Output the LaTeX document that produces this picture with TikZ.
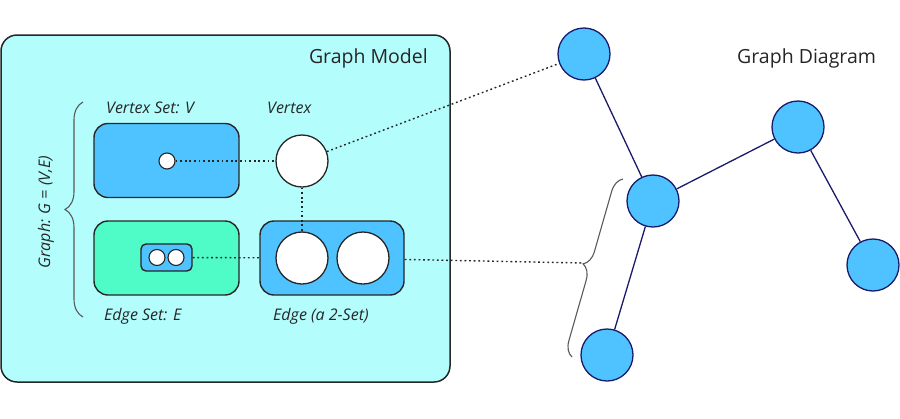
\documentclass[tikz,border=0pt]{standalone}
\usepackage{fontspec}
\setmainfont{Open Sans}
\usetikzlibrary{decorations.pathreplacing}
\definecolor{modelbg}{HTML}{B3FDFD}
\definecolor{setblue}{HTML}{4FC3FF}
\definecolor{setgreen}{HTML}{4FFCC8}
\definecolor{navy}{HTML}{1A1A6B}

\begin{document}
\begin{tikzpicture}[x=1pt, y=-1pt,
  box/.style={draw=black!85, line width=1.4pt, rounded corners=14pt, inner sep=0pt},
  ball/.style={circle, draw=black!85, fill=white, line width=1.3pt, inner sep=0pt, minimum size=52pt},
  pip/.style={circle, draw=black!85, fill=white, line width=1.1pt, inner sep=0pt, minimum size=16pt},
  gnode/.style={circle, draw=navy, fill=setblue, line width=1.3pt, inner sep=0pt, minimum size=52pt},
  link/.style={black!85, line width=1.4pt, dash pattern=on 1.8pt off 2.8pt},
  lbl/.style={font=\fontsize{16}{19}\selectfont\itshape, text=black!85, inner sep=0pt},
  ttl/.style={font=\fontsize{19.5}{24}\selectfont, text=black!85, inner sep=0pt},
  brc/.style={draw=black!65, line width=1.1pt, decorate}]
\useasboundingbox (0,0) rectangle (900,418);
%\draw [help lines, step=50] (0,0) grid (900,418);

% graph model
\draw [fill=modelbg, draw=black!85, line width=1.5pt, rounded corners=16pt] (1,35) rectangle (450,382);
\node [ttl, anchor=base east] (mtitle) at (428,63) {Graph Model};

\node [box, fill=setblue, minimum width=145pt, minimum height=74pt] (vset) at (166.5,160.5) {};
\node [pip] (vpip) at (167,161) {};
\node [ball] (vert) at (302,161) {};

\node [box, fill=setgreen, minimum width=145pt, minimum height=74pt] (eset) at (166.5,258) {};
\node [box, fill=setblue, rounded corners=5pt, minimum width=51pt, minimum height=27pt] (epair) at (166.5,257.5) {};
\node [pip] (p1) at (157,257.5) {};
\node [pip] (p2) at (176,257.5) {};

\node [box, fill=setblue, minimum width=144pt, minimum height=74pt] (ebox) at (332,258) {};
\node [ball] (e1) at (302,258) {};
\node [ball] (e2) at (363,258) {};

\node [lbl, anchor=base west] (vsetlbl) at (106,113) {Vertex Set: V};
\node [lbl, anchor=base west] (vertlbl) at (267,113) {Vertex};
\node [lbl, anchor=base west] (esetlbl) at (104,320) {Edge Set: E};
\node [lbl, anchor=base west] (eboxlbl) at (273,320) {Edge (a 2-Set)};

\draw [brc, decoration={brace, amplitude=18pt}] (83,317) -- (83,102);
\node [lbl, rotate=90] (glbl) at (46,212) {Graph: G = (V,E)};

% graph diagram
\node [ttl, anchor=base west] (dtitle) at (737,63) {Graph Diagram};

\node [gnode] (ga) at (584,54) {};
\node [gnode] (gb) at (653,201) {};
\node [gnode] (gc) at (798,127) {};
\node [gnode] (gd) at (873,265) {};
\node [gnode] (ge) at (607,355) {};

\draw [navy, line width=1.3pt] (ga)--(gb);
\draw [navy, line width=1.3pt] (gb)--(gc);
\draw [navy, line width=1.3pt] (gc)--(gd);
\draw [navy, line width=1.3pt] (gb)--(ge);

\draw [brc, decoration={brace, amplitude=15pt}] (572,357) -- (623,179);
\coordinate (etip) at (583,263);

%  dotted links:
\draw [link] (vpip)--(vert);
\draw [link] (vert)--(e1);
\draw [link] (epair)--(ebox);
\draw [link] (vert)--(ga);
\draw [link] (ebox)--(etip);

\end{tikzpicture}
\end{document}
